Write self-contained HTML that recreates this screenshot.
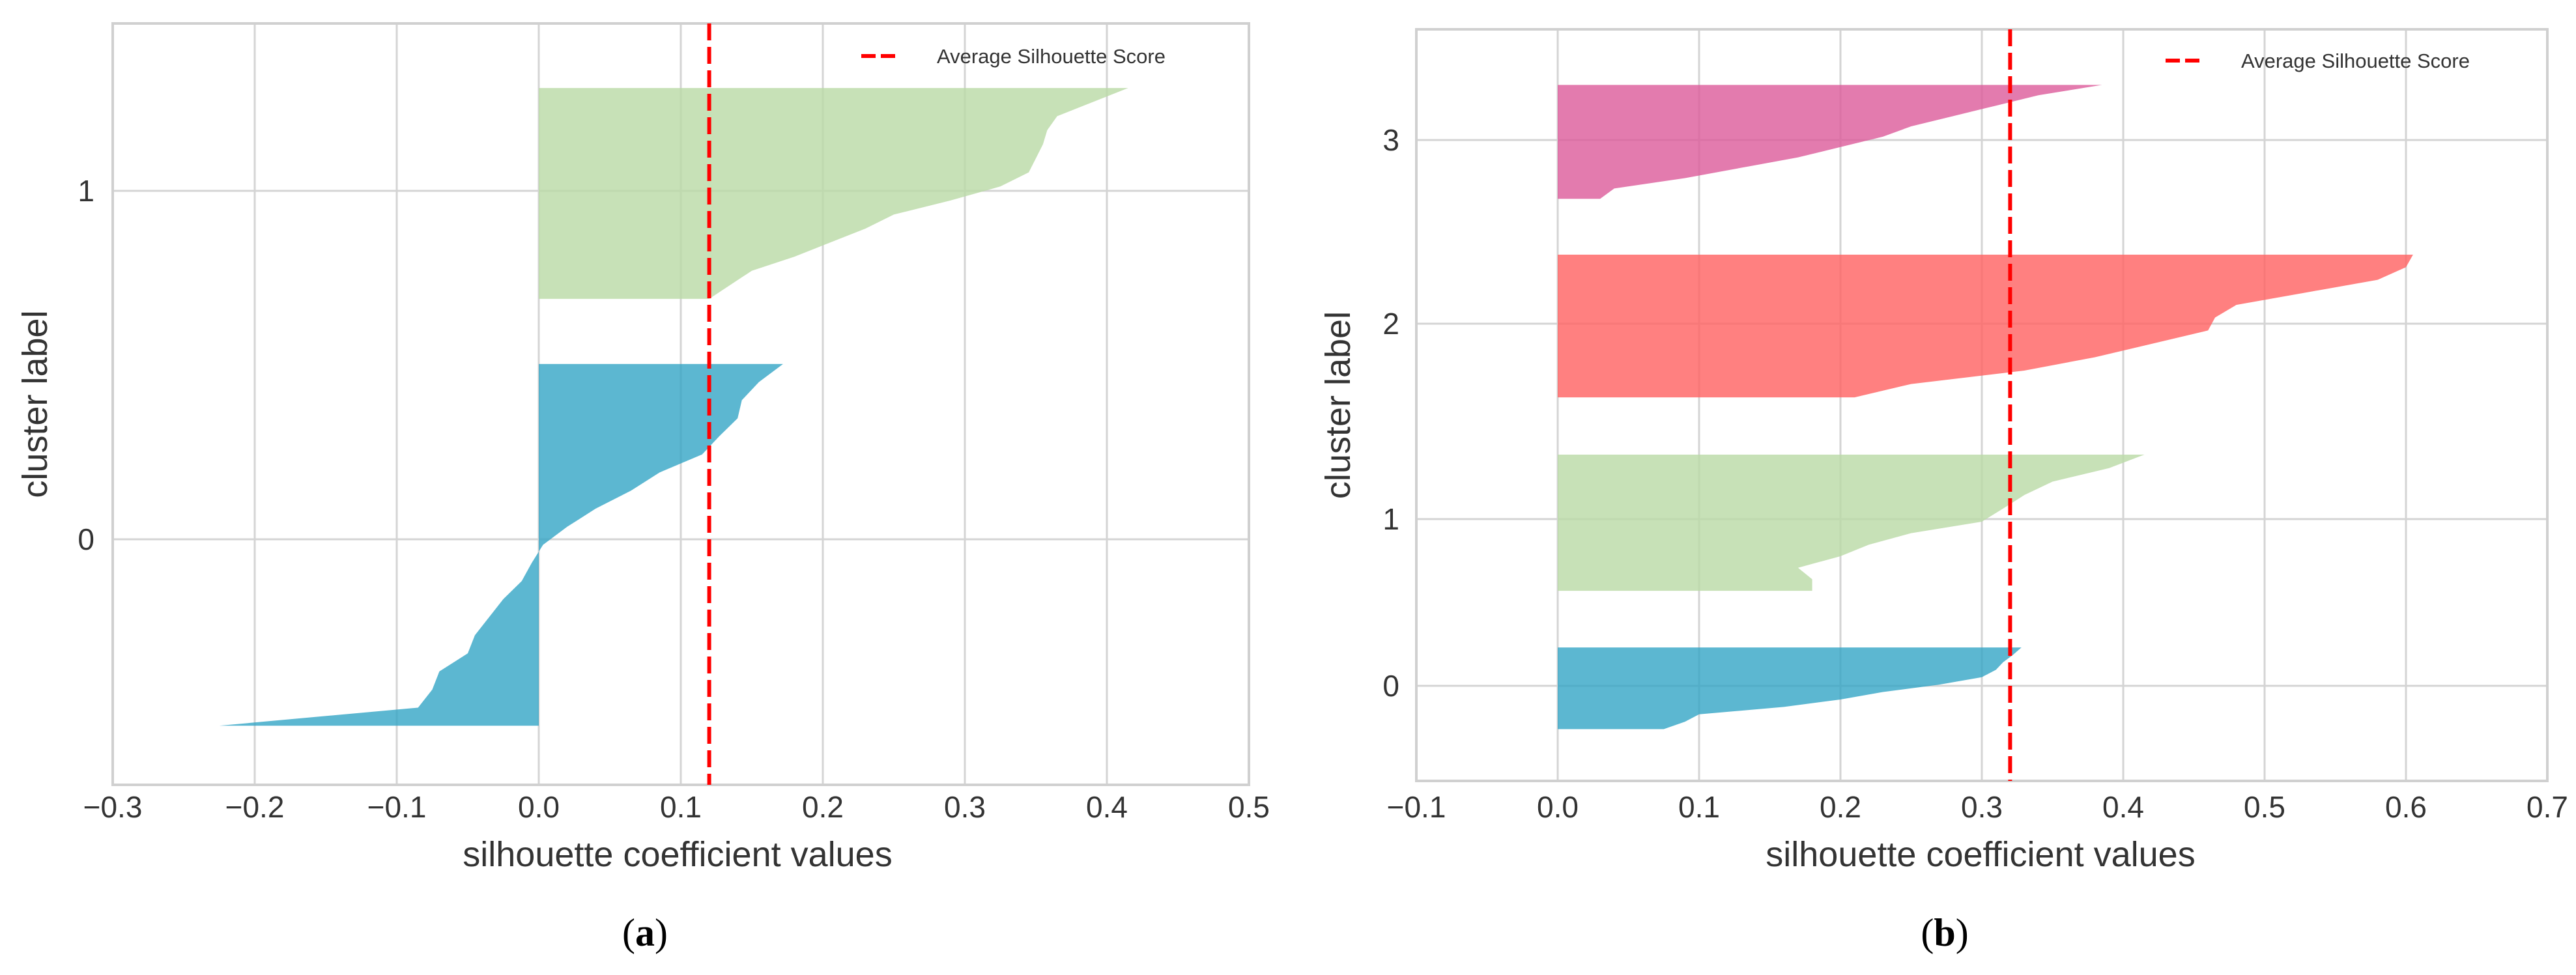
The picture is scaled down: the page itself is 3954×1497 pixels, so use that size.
<!DOCTYPE html>
<html><head><meta charset="utf-8"><style>
html,body{margin:0;padding:0;background:#fff}
svg{display:block}
text{font-family:"Liberation Sans",sans-serif;fill:#333}
</style></head><body>
<svg id="s" width="3954" height="1497" xmlns="http://www.w3.org/2000/svg"></svg>
<script>
// ---- Chart (a) data ----
const aXTicks = [-0.3,-0.2,-0.1,0.0,0.1,0.2,0.3,0.4,0.5];
const aYTicks = [0,1];
const aAvg = 0.12;
const aGreenRange = [1.295, 0.69];
const aGreenVals = [0.415,0.39,0.365,0.358,0.355,0.35,0.345,0.325,0.29,0.25,0.23,0.205,0.18,0.15,0.135,0.12];
const aBlueRange = [0.503, -0.535];
const aBlueVals = [0.172,0.155,0.143,0.14,0.127,0.115,0.085,0.065,0.04,0.02,0.003,-0.005,-0.012,-0.025,-0.035,-0.045,-0.05,-0.07,-0.075,-0.085,-0.225];
// ---- Chart (b) data ----
const bXTicks = [-0.1,0.0,0.1,0.2,0.3,0.4,0.5,0.6,0.7];
const bYTicks = [0,1,2,3];
const bAvg = 0.32;
const bMagRange = [3.30, 2.68];
const bMagVals = [0.385,0.34,0.31,0.28,0.25,0.23,0.2,0.17,0.13,0.09,0.04,0.03];
const bRedRange = [2.376, 1.623];
const bRedVals = [0.605,0.6,0.58,0.53,0.48,0.465,0.46,0.42,0.38,0.33,0.25,0.21];
const bGreenRange = [1.33, 0.57];
const bGreenVals = [0.415,0.39,0.35,0.33,0.315,0.3,0.25,0.22,0.2,0.17,0.18,0.18];
const bBlueRange = [0.23, -0.26];
const bBlueVals = [0.328,0.322,0.315,0.31,0.3,0.27,0.23,0.2,0.16,0.1,0.09,0.075];

const NS="http://www.w3.org/2000/svg";
const svg=document.getElementById('s');
function mk(tag,attrs,parent){const e=document.createElementNS(NS,tag);for(const k in attrs)e.setAttribute(k,attrs[k]);(parent||svg).appendChild(e);return e;}

// piecewise-linear y scale through calibrated tick anchors (reference image is slightly non-uniform)
function pieceScale(vals,pix){
  return v=>{
    let i=0;
    while(i<vals.length-2 && v>vals[i+1]) i++;
    const t=(v-vals[i])/(vals[i+1]-vals[i]);
    return pix[i]+t*(pix[i+1]-pix[i]);
  };
}

function chart(cfg){
  const g=mk('g',{});
  
  
  const X=v=>cfg.x0+(v-cfg.xmin)/(cfg.xmax-cfg.xmin)*(cfg.x1-cfg.x0);
  const Y=cfg.Y;
  cfg.xTicks.forEach(t=>{
    const l=mk('line',{x1:X(t),x2:X(t),y1:cfg.y0,y2:cfg.y1,stroke:'#d4d4d4','stroke-width':3},g);
    
    
    const tx=mk('text',{x:X(t),y:1255,'font-size':46,'text-anchor':'middle'},g);
    tx.textContent=(t<0?'\u2212':'')+Math.abs(t).toFixed(1);
    
    
  });
  cfg.yTicks.forEach(t=>{
    const l=mk('line',{x1:cfg.x0,x2:cfg.x1,y1:Y(t),y2:Y(t),stroke:'#d4d4d4','stroke-width':3},g);
    
    
    const tx=mk('text',{x:cfg.yLabX,y:Y(t)+16,'font-size':46,'text-anchor':'end'},g);
    tx.textContent=String(t);
    
    
  });
  cfg.clusters.forEach(c=>{
    const [top,bot]=c.range;const n=c.vals.length;
    let pts=[[X(0),Y(top)]];
    for(let i=0;i<n;i++){
      const ya=top+(bot-top)*(i/(n-1));
      pts.push([X(c.vals[i]),Y(ya)]);
    }
    pts.push([X(0),Y(bot)]);
    const p=mk('polygon',{points:pts.map(p=>p.join(',')).join(' '),fill:c.color,'fill-opacity':c.op},g);
    
    
  });
  const fr=mk('rect',{x:cfg.x0,y:cfg.y0,width:cfg.x1-cfg.x0,height:cfg.y1-cfg.y0,fill:'none',stroke:'#d0d0d0','stroke-width':4},g);
  
  
  const al=mk('line',{x1:X(cfg.avg),x2:X(cfg.avg),y1:cfg.y0,y2:cfg.y1,stroke:'#ff0000','stroke-width':6,'stroke-dasharray':'26,10'},g);
  
  
  const lg=mk('g',{},g);
  
  
  mk('line',{x1:cfg.legX,x2:cfg.legX+60,y1:cfg.legY,y2:cfg.legY,stroke:'#ff0000','stroke-width':6,'stroke-dasharray':'22,8'},lg);
  const lt=mk('text',{x:cfg.legX+116,y:cfg.legY+11,'font-size':31},lg);
  lt.textContent='Average Silhouette Score';
  const xt=mk('text',{x:cfg.xTitleX,y:1330,'font-size':54,'text-anchor':'middle'},g);
  xt.textContent='silhouette coefficient values';
  
  
  const yt=mk('text',{x:0,y:0,'font-size':54,'text-anchor':'middle',transform:`translate(${cfg.yTitleX},${(cfg.y0+cfg.y1)/2}) rotate(-90)`},g);
  yt.textContent='cluster label';
  
  
  const cap=mk('text',{x:cfg.capX,y:1452,'font-size':60,'text-anchor':'middle',style:'font-family:"Liberation Serif",serif;fill:#000'},g);
  cap.innerHTML='(<tspan font-weight="bold">'+cfg.cap+'</tspan>)';
  
  
}

chart({name:'chart-a',x0:173,x1:1917,y0:36,y1:1205,xmin:-0.3,xmax:0.5,Y:v=>828-v*535,
  xTicks:aXTicks,yTicks:aYTicks,avg:aAvg,yLabX:145,legX:1322,legY:86,xTitleX:1040,yTitleX:72,capX:990,cap:'a',
  clusters:[{name:'cluster-1-silhouette',range:aGreenRange,vals:aGreenVals,color:'#b9d9a5',op:0.8},
            {name:'cluster-0-silhouette',range:aBlueRange,vals:aBlueVals,color:'#2ea3c4',op:0.78}]});
chart({name:'chart-b',x0:2174,x1:3910,y0:45,y1:1199,xmin:-0.1,xmax:0.7,Y:pieceScale([0,1,2,3],[1053,797,497,215]),
  xTicks:bXTicks,yTicks:bYTicks,avg:bAvg,yLabX:2148,legX:3324,legY:93,xTitleX:3040,yTitleX:2072,capX:2985,cap:'b',
  clusters:[{name:'cluster-3-silhouette',range:bMagRange,vals:bMagVals,color:'#dc5a9a',op:0.8},
            {name:'cluster-2-silhouette',range:bRedRange,vals:bRedVals,color:'#ff6060',op:0.8},
            {name:'cluster-1-silhouette',range:bGreenRange,vals:bGreenVals,color:'#b9d9a5',op:0.8},
            {name:'cluster-0-silhouette',range:bBlueRange,vals:bBlueVals,color:'#2ea3c4',op:0.78}]});
</script>
</body></html>
